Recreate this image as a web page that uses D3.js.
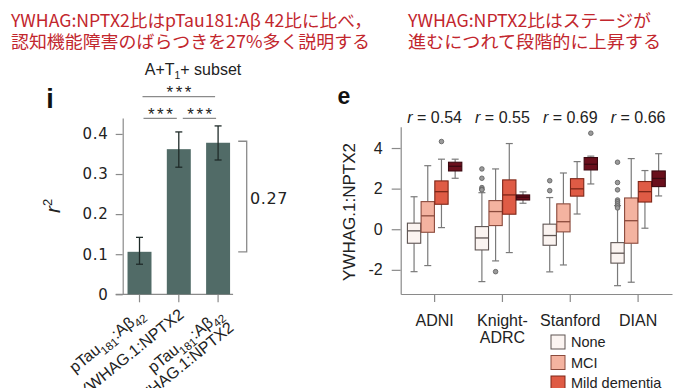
<!DOCTYPE html>
<html>
<head>
<meta charset="utf-8">
<script src="https://cdn.jsdelivr.net/npm/d3@7"></script>
<style>
  body { margin: 0; background: #fff; }
  svg { display: block; font-family: "Liberation Sans", Arial, sans-serif; }
</style>
</head>
<body>
<svg id="chart" width="690" height="388"></svg>
<script>
// headline text
const headLeft = ['YWHAG:NPTX2比はpTau181:Aβ 42比に比べ，', '認知機能障害のばらつきを27%多く説明する'];
const headRight = ['YWHAG:NPTX2比はステージが', '進むにつれて段階的に上昇する'];

// panel i: r^2 per model
const barNames = ['ptau', 'ywhag', 'both'];
const barLabels = [['pTau_181:Aβ_42'], ['YWHAG.1:NPTX2'], ['pTau_181:Aβ_42', 'YWHAG.1:NPTX2']];
const r2Values = [0.106, 0.362, 0.378];
const r2Low = [0.075, 0.317, 0.335];
const r2High = [0.142, 0.405, 0.42];
const r2Ticks = [0, 0.1, 0.2, 0.3, 0.4];

// panel e: YWHAG.1:NPTX2 by stage in each cohort
const cohorts = ['ADNI', 'Knight-ADRC', 'Stanford', 'DIAN'];
const stages = ['None', 'MCI', 'Mild dementia', 'Moderate dementia'];
const rValues = [0.54, 0.55, 0.69, 0.66];
const yTicks = [-2, 0, 2, 4];
// [lower whisker, q1, median, q3, upper whisker] for None, MCI, Mild, Moderate
const boxADNI = [[-2.09, -0.69, -0.08, 0.3, 1.6], [-1.79, -0.15, 0.66, 1.36, 3.13], [0.08, 1.23, 1.85, 2.38, 3.45], [2.51, 2.87, 3.1, 3.3, 3.45]];
const boxKnight = [[-2.58, -1.02, -0.43, 0.13, 1.8], [-1.56, 0.18, 0.87, 1.41, 2.97], [-1.15, 0.74, 1.69, 2.43, 4.22], [1.28, 1.44, 1.58, 1.69, 1.84]];
const boxStanford = [[-2.1, -0.79, -0.31, 0.25, 1.56], [-1.76, -0.13, 0.37, 1.25, 2.77], [0.75, 1.63, 1.99, 2.49, 3.33], [2.23, 2.92, 3.2, 3.53, 3.6]];
const boxDIAN = [[-2.78, -1.67, -1.18, -0.66, 1.16], [-2.61, -0.69, 0.42, 1.54, 3.48], [0.05, 1.34, 1.85, 2.35, 2.89], [1.64, 2.1, 2.5, 2.87, 3.72]];
const outADNI = [[], [], [4.32], []];
const outKnight = [[2.97, 2.51, 2.05, 1.97, 1.94], [-2.09], [], []];
const outStanford = [[2.39, 1.9], [], [], [4.73]];
const outDIAN = [[3.3, 2.3, 1.94, 1.44, 1.35, 1.25, 1.15, 1.05], [], [], []];

const boxStats = [boxADNI, boxKnight, boxStanford, boxDIAN];
const outliers = [outADNI, outKnight, outStanford, outDIAN];

const stageFill = ['#fbf4f1', '#f4b3a0', '#df5b45', '#6a0f1c'];
const stageStroke = ['#5e5452', '#8a4a3c', '#7e2618', '#3a0810'];
const axisGray = '#8a8a8a';
const red = '#c2262d';

const svg = d3.select('#chart');

// headlines
function headline(lines, x, widths) {
  lines.forEach((t, i) => {
    svg.append('text')
      .attr('x', x).attr('y', 27 + i * 21)
      .attr('font-family', '"Noto Sans CJK JP", sans-serif')
      .attr('font-size', 17.5)
      .attr('fill', red)
      .attr('textLength', widths[i])
      .attr('lengthAdjust', 'spacingAndGlyphs')
      .text(t);
  });
}
headline(headLeft, 11, [361, 359]);
headline(headRight, 408, [243, 253]);

// text with _digits as subscripts
function subText(sel, s, size, ratio) {
  let shift = 0;
  s.split(/(_\d+)/).filter(p => p).forEach(p => {
    if (p[0] === '_') {
      const d = size * 0.28;
      sel.append('tspan').attr('font-size', size * ratio).attr('dy', d - shift).text(p.slice(1));
      shift = d;
    } else {
      sel.append('tspan').attr('font-size', size).attr('dy', -shift).text(p);
      shift = 0;
    }
  });
}

// ---------- panel i ----------
const yL = d3.scaleLinear().domain([0, 0.44]).range([294.3, 117.9]);
const xL = d3.scaleBand().domain(barNames).range([112.2, 245.4]).padding(0.39);
const cx = n => xL(n) + xL.bandwidth() / 2;
const axisX = 122.7;

svg.append('text').attr('x', 50).attr('y', 108)
  .attr('text-anchor', 'middle').attr('font-size', 27).attr('font-weight', 900)
  .attr('fill', '#111').text('i');

const ttl = svg.append('text').attr('x', 193).attr('y', 75)
  .attr('text-anchor', 'middle').attr('font-size', 16).attr('fill', '#222');
subText(ttl, 'A+T_1+ subset', 16, 0.65);

const gyL = svg.append('g').attr('transform', `translate(${axisX},0)`)
  .call(d3.axisLeft(yL).tickValues(r2Ticks).tickSize(7).tickSizeOuter(0).tickPadding(7)
    .tickFormat(d => d === 0 ? '0' : d3.format('.1f')(d)));
gyL.selectAll('path, line').attr('stroke', axisGray).attr('stroke-width', 1.2);
gyL.selectAll('text').attr('font-family', '"DejaVu Sans", sans-serif')
  .attr('font-size', 15).attr('letter-spacing', 0.8).attr('fill', '#222');

// x axis
svg.append('line').attr('x1', axisX - 7).attr('x2', xL(barNames[2]) + xL.bandwidth() + 3)
  .attr('y1', yL(0)).attr('y2', yL(0)).attr('stroke', axisGray).attr('stroke-width', 1.2);
svg.selectAll('.xtick').data(barNames).join('line')
  .attr('x1', cx).attr('x2', cx).attr('y1', yL(0)).attr('y2', yL(0) + 8)
  .attr('stroke', axisGray).attr('stroke-width', 1.2);

// y title r^2
const r2t = svg.append('text').attr('transform', 'translate(60,206) rotate(-90)')
  .attr('text-anchor', 'middle').attr('font-size', 21).attr('fill', '#222');
r2t.append('tspan').attr('font-style', 'italic').text('r');
r2t.append('tspan').attr('font-size', 13).attr('dy', -8).text('2');

// bars + error bars
svg.selectAll('.bar').data(barNames).join('rect')
  .attr('x', d => xL(d)).attr('width', xL.bandwidth())
  .attr('y', (d, i) => yL(r2Values[i])).attr('height', (d, i) => yL(0) - yL(r2Values[i]))
  .attr('fill', '#516b67');
barNames.forEach((n, i) => {
  const g = svg.append('g').attr('stroke', '#1f2b29').attr('stroke-width', 1.3);
  g.append('line').attr('x1', cx(n)).attr('x2', cx(n)).attr('y1', yL(r2Low[i])).attr('y2', yL(r2High[i]));
  [r2Low[i], r2High[i]].forEach(v => g.append('line')
    .attr('x1', cx(n) - 3.5).attr('x2', cx(n) + 3.5).attr('y1', yL(v)).attr('y2', yL(v)));
});

// significance lines
const sig = [[0, 2, 96.7], [0, 1, 118.3], [1, 2, 118.3]];
sig.forEach(([a, b, y]) => {
  const x1 = cx(barNames[a]) + (b - a === 2 ? 3 : 4);
  const x2 = cx(barNames[b]) - (b - a === 2 ? 3 : 2);
  svg.append('line').attr('x1', x1).attr('x2', x2).attr('y1', y).attr('y2', y)
    .attr('stroke', axisGray).attr('stroke-width', 1.3);
  svg.append('text').attr('x', (x1 + x2) / 2 + 1.5).attr('y', y + 1.5)
    .attr('text-anchor', 'middle').attr('font-size', 17).attr('letter-spacing', 2.5)
    .attr('fill', '#222').text('***');
});

// bracket 0.27
const bx = 246.7;
svg.append('path')
  .attr('d', `M${bx - 8.5},${yL(r2Values[2]) - 1.5}H${bx}V${yL(r2Values[0])}H${bx - 8.5}`)
  .attr('fill', 'none').attr('stroke', axisGray).attr('stroke-width', 1.3);
svg.append('text').attr('x', 250).attr('y', 204)
  .attr('font-family', '"DejaVu Sans", sans-serif').attr('font-size', 16).attr('letter-spacing', 0.6)
  .attr('fill', '#222').text(d3.format('.2f')(r2Values[2] - r2Values[0] - 0.002));

// rotated x labels
barNames.forEach((n, i) => {
  const g = svg.append('g').attr('transform', `translate(${cx(n) + 6},${yL(0) + 22}) rotate(-39)`);
  barLabels[i].forEach((lab, k) => {
    const t = g.append('text').attr('x', 0).attr('y', k * 17)
      .attr('text-anchor', 'end').attr('font-size', 16).attr('fill', '#222');
    subText(t, lab, 16, 0.72);
  });
});

// ---------- panel e ----------
const yR = d3.scaleLinear().domain([-3.19, 5.05]).range([294, 126.7]);
const xR = d3.scaleBand().domain(cohorts).range([400.7, 672]);
const xS = d3.scaleBand().domain(stages).range([-27.4, 27.4]);
const gc = c => xR(c) + xR.bandwidth() / 2;

svg.append('text').attr('x', 344).attr('y', 104)
  .attr('text-anchor', 'middle').attr('font-size', 23).attr('font-weight', 900)
  .attr('fill', '#111').text('e');

const gyR = svg.append('g').attr('transform', `translate(400.7,0)`)
  .call(d3.axisLeft(yR).tickValues(yTicks).tickSize(9).tickSizeOuter(0).tickPadding(9)
    .tickFormat(d => String(d)));
gyR.selectAll('path, line').attr('stroke', axisGray).attr('stroke-width', 1.2);
gyR.selectAll('text').attr('font-size', 16).attr('fill', '#222');

const gxR = svg.append('g').attr('transform', `translate(0,294)`)
  .call(d3.axisBottom(xR).tickSize(8).tickSizeOuter(0).tickFormat(''));
gxR.selectAll('path, line').attr('stroke', axisGray).attr('stroke-width', 1.2);

svg.append('text').attr('transform', 'translate(355,212) rotate(-90)')
  .attr('text-anchor', 'middle').attr('font-size', 17).attr('fill', '#222')
  .text('YWHAG.1:NPTX2');

cohorts.forEach((c, i) => {
  const rt = svg.append('text').attr('x', gc(c)).attr('y', 123)
    .attr('text-anchor', 'middle').attr('font-size', 16).attr('fill', '#222');
  rt.append('tspan').attr('font-style', 'italic').text('r');
  rt.append('tspan').text(' = ' + d3.format('.2f')(rValues[i]));

  c.replace('-', '-\n').split('\n').forEach((line, k) => {
    svg.append('text').attr('x', gc(c)).attr('y', 326 + k * 17)
      .attr('text-anchor', 'middle').attr('font-size', 16).attr('fill', '#222').text(line);
  });

  stages.forEach((s, j) => {
    const [lo, q1, md, q3, hi] = boxStats[i][j];
    const x = gc(c) + xS(s) + xS.bandwidth() / 2;
    const w = xS.bandwidth() - 0.4;
    const g = svg.append('g');
    g.append('line').attr('x1', x).attr('x2', x).attr('y1', yR(lo)).attr('y2', yR(q1))
      .attr('stroke', '#7a7a7a').attr('stroke-width', 1.2);
    g.append('line').attr('x1', x).attr('x2', x).attr('y1', yR(q3)).attr('y2', yR(hi))
      .attr('stroke', '#7a7a7a').attr('stroke-width', 1.2);
    [lo, hi].forEach(v => g.append('line').attr('x1', x - 3.5).attr('x2', x + 3.5)
      .attr('y1', yR(v)).attr('y2', yR(v)).attr('stroke', '#7a7a7a').attr('stroke-width', 1.2));
    g.append('rect').attr('x', x - w / 2).attr('width', w)
      .attr('y', yR(q3)).attr('height', yR(q1) - yR(q3))
      .attr('fill', stageFill[j]).attr('stroke', stageStroke[j]).attr('stroke-width', 1.1);
    g.append('line').attr('x1', x - w / 2).attr('x2', x + w / 2).attr('y1', yR(md)).attr('y2', yR(md))
      .attr('stroke', stageStroke[j]).attr('stroke-width', 1.3);
    g.selectAll('circle').data(outliers[i][j]).join('circle')
      .attr('cx', x).attr('cy', d => yR(d)).attr('r', 2.3)
      .attr('fill', '#9a9a9a').attr('stroke', '#5a5a5a').attr('stroke-width', 0.8);
  });
});

// legend
stages.forEach((s, j) => {
  const y = 342 + j * 20.5;
  svg.append('rect').attr('x', 551).attr('y', y - 7).attr('width', 14).attr('height', 14)
    .attr('fill', stageFill[j]).attr('stroke', stageStroke[j]).attr('stroke-width', 1);
  svg.append('text').attr('x', 571).attr('y', y + 5)
    .attr('font-size', 14.5).attr('fill', '#222').text(s);
});
</script>
</body>
</html>
